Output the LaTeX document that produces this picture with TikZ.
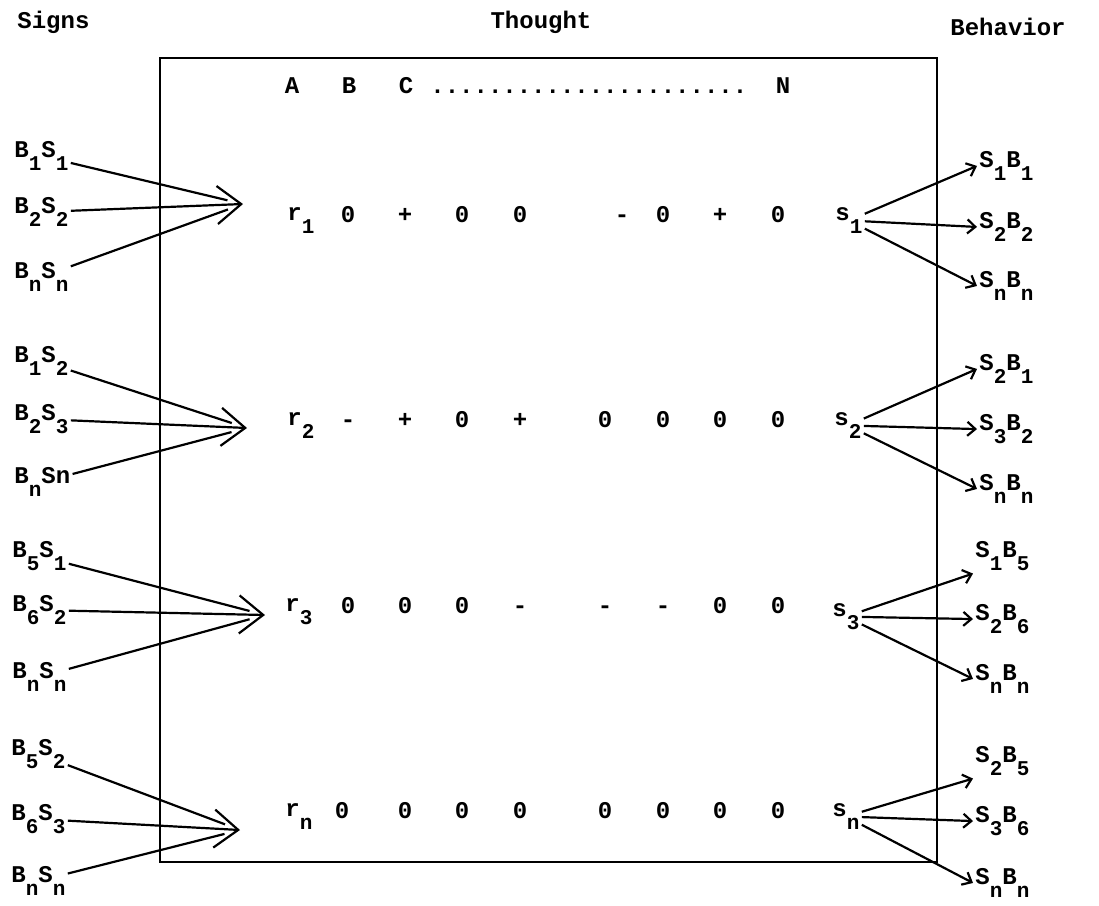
\documentclass[tikz,border=0pt]{standalone}
\usepackage{fontspec}
\setmainfont{Liberation Mono}
\usetikzlibrary{arrows.meta}
\newcommand\lo[1]{\raisebox{-1.1ex}{\fontsize{10.5}{10.5}\selectfont #1}}
\begin{document}
\begin{tikzpicture}[x=0.5pt,y=-0.5pt]
\tikzstyle{txt}=[inner sep=1pt,anchor=base west,font=\fontsize{12}{14}\selectfont\bfseries]
\tikzstyle{val}=[txt,anchor=base]
\tikzstyle{ed}=[draw=black,line width=1.1pt]
\tikzstyle{conv}=[ed,-{Straight Barb[length=12pt,width=19pt,line width=1.1pt]}]
\tikzstyle{div}=[ed,-{Straight Barb[length=4pt,width=7pt]}]
\useasboundingbox (0,0) rectangle (1099,906);
\draw [line width=1pt] (160,58) rectangle (937,862);
% headings
\node [txt] (signs) at (15,28) {Signs};
\node [val] (thought) at (541,28) {Thought};
\node [txt] (behav) at (948,35) {Behavior};
\node [val] (ha) at (292,93) {A};
\node [val] (hb) at (349,93) {B};
\node [val] (hc) at (406,93) {C};
\node [txt] (hdots) at (428,93) {......................};
\node [val] (hn) at (783,93) {N};
% r and s rows
\node [txt] (r1) at (285,220) {r\lo{1}};
\node [txt] (r2) at (285,425) {r\lo{2}};
\node [txt] (r3) at (283,611) {r\lo{3}};
\node [txt] (r4) at (283,816) {r\lo{n}};
\node [txt] (s1) at (833,220) {s\lo{1}};
\node [txt] (s2) at (832,425) {s\lo{2}};
\node [txt] (s3) at (830,616) {s\lo{3}};
\node [txt] (s4) at (830,816) {s\lo{n}};
\foreach \x/\v [count=\i] in {348/0,405/+,462/0,520/0,622/-,663/0,720/+,778/0}
  \node [val] (a\i) at (\x,222) {\v};
\foreach \x/\v [count=\i] in {348/-,405/+,462/0,520/+,605/0,663/0,720/0,778/0}
  \node [val] (b\i) at (\x,427) {\v};
\foreach \x/\v [count=\i] in {348/0,405/0,462/0,520/-,605/-,663/-,720/0,778/0}
  \node [val] (c\i) at (\x,613) {\v};
\foreach \x/\v [count=\i] in {342/0,405/0,462/0,520/0,605/0,663/0,720/0,778/0}
  \node [val] (d\i) at (\x,818) {\v};
% signs
\node [txt] (p1a) at (12,157) {B\lo{1}S\lo{1}};
\node [txt] (p1b) at (12,213) {B\lo{2}S\lo{2}};
\node [txt] (p1c) at (12,278) {B\lo{n}S\lo{n}};
\node [txt] (p2a) at (12,362) {B\lo{1}S\lo{2}};
\node [txt] (p2b) at (12,420) {B\lo{2}S\lo{3}};
\node [txt] (p2c) at (12,483) {B\lo{n}Sn};
\node [txt] (p3a) at (10,557) {B\lo{5}S\lo{1}};
\node [txt] (p3b) at (10,611) {B\lo{6}S\lo{2}};
\node [txt] (p3c) at (10,678) {B\lo{n}S\lo{n}};
\node [txt] (p4a) at (9,755) {B\lo{5}S\lo{2}};
\node [txt] (p4b) at (9,820) {B\lo{6}S\lo{3}};
\node [txt] (p4c) at (9,882) {B\lo{n}S\lo{n}};
% behavior
\node [txt] (q1a) at (977,167) {S\lo{1}B\lo{1}};
\node [txt] (q1b) at (977,228) {S\lo{2}B\lo{2}};
\node [txt] (q1c) at (977,287) {S\lo{n}B\lo{n}};
\node [txt] (q2a) at (977,370) {S\lo{2}B\lo{1}};
\node [txt] (q2b) at (977,430) {S\lo{3}B\lo{2}};
\node [txt] (q2c) at (977,490) {S\lo{n}B\lo{n}};
\node [txt] (q3a) at (973,557) {S\lo{1}B\lo{5}};
\node [txt] (q3b) at (973,620) {S\lo{2}B\lo{6}};
\node [txt] (q3c) at (973,680) {S\lo{n}B\lo{n}};
\node [txt] (q4a) at (973,762) {S\lo{2}B\lo{5}};
\node [txt] (q4b) at (973,822) {S\lo{3}B\lo{6}};
\node [txt] (q4c) at (973,884) {S\lo{n}B\lo{n}};
\coordinate (v1) at (243,204);
\coordinate (v2) at (247,428);
\coordinate (v3) at (265,615);
\coordinate (v4) at (240,830);
\draw [ed,shorten >=8pt] (p1a) -- (v1);
\draw [conv] (p1b) -- (v1);
\draw [ed,shorten >=8pt] (p1c) -- (v1);
\draw [ed,shorten >=8pt] (p2a) -- (v2);
\draw [conv] (p2b) -- (v2);
\draw [ed,shorten >=8pt] (p2c) -- (v2);
\draw [ed,shorten >=8pt] (p3a) -- (v3);
\draw [conv] (p3b) -- (v3);
\draw [ed,shorten >=8pt] (p3c) -- (v3);
\draw [ed,shorten >=8pt] (p4a) -- (v4);
\draw [conv] (p4b) -- (v4);
\draw [ed,shorten >=8pt] (p4c) -- (v4);
\draw [div] (s1) -- (q1a.west);
\draw [div] (s1) -- (q1b.west);
\draw [div] (s1) -- (q1c.west);
\draw [div] (s2) -- (q2a.west);
\draw [div] (s2) -- (q2b.west);
\draw [div] (s2) -- (q2c.west);
\draw [div] (s3) -- (q3a.south west);
\draw [div] (s3) -- (q3b.west);
\draw [div] (s3) -- (q3c.west);
\draw [div] (s4) -- (q4a.south west);
\draw [div] (s4) -- (q4b.west);
\draw [div] (s4) -- (q4c.west);
\end{tikzpicture}
\end{document}
